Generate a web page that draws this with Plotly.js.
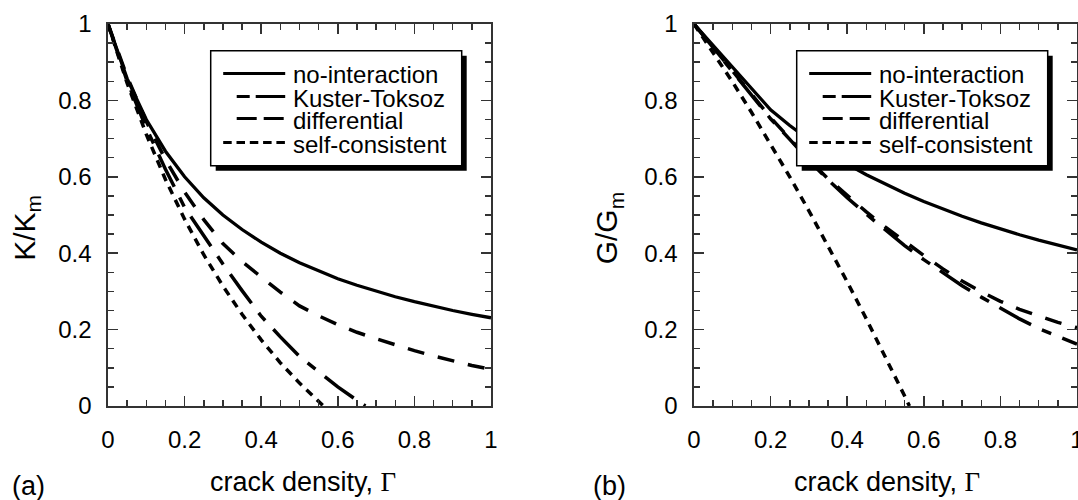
<!DOCTYPE html>
<html>
<head>
<meta charset="utf-8">
<script src="https://cdn.plot.ly/plotly-3.0.1.min.js"></script>
<style>html,body{margin:0;padding:0;background:#fff;}#chart{width:1078px;height:500px;}</style>
</head>
<body>
<div id="chart"></div>
<script>
// ---------- data ----------
const seriesNames = ['no-interaction', 'Kuster-Toksoz', 'differential', 'self-consistent'];
const tickVals = [0, 0.2, 0.4, 0.6, 0.8, 1];
const tickText = ['0', '0.2', '0.4', '0.6', '0.8', '1'];

// (a) bulk modulus K/Km
const gammaA = [0, 0.05, 0.1, 0.15, 0.2, 0.25, 0.3, 0.35, 0.4, 0.45, 0.5, 0.55, 0.6, 0.65, 0.7, 0.75, 0.8, 0.85, 0.9, 0.95, 1];
const kNoInteraction = [1, 0.857, 0.75, 0.667, 0.6, 0.545, 0.5, 0.462, 0.429, 0.4, 0.375, 0.353, 0.333, 0.316, 0.3, 0.286, 0.273, 0.261, 0.25, 0.24, 0.231];
const kDifferential = [1, 0.862, 0.745, 0.645, 0.56, 0.488, 0.425, 0.378, 0.338, 0.298, 0.262, 0.236, 0.213, 0.193, 0.176, 0.16, 0.145, 0.131, 0.118, 0.106, 0.096];
const gammaKT_A = [0, 0.05, 0.1, 0.15, 0.2, 0.25, 0.3, 0.35, 0.4, 0.45, 0.5, 0.55, 0.6, 0.65, 0.672];
const kKusterToksoz = [1, 0.85, 0.728, 0.62, 0.52, 0.445, 0.372, 0.302, 0.235, 0.181, 0.13, 0.09, 0.05, 0.015, 0];
const gammaSC = [0, 0.05, 0.1, 0.15, 0.2, 0.25, 0.3, 0.35, 0.4, 0.45, 0.5, 0.55, 0.5625];
const kSelfConsistent = [1, 0.845, 0.711, 0.593, 0.489, 0.396, 0.314, 0.24, 0.173, 0.113, 0.06, 0.011, 0];

// (b) shear modulus G/Gm
const gammaB = [0, 0.2, 0.25, 0.3, 0.35, 0.4, 0.45, 0.5, 0.55, 0.6, 0.65, 0.7, 0.75, 0.8, 0.85, 0.9, 0.95, 1];
const gNoInteraction = [1, 0.7755, 0.7343, 0.6972, 0.6637, 0.6333, 0.6055, 0.5801, 0.5567, 0.5351, 0.5152, 0.4967, 0.4795, 0.4634, 0.4483, 0.4342, 0.421, 0.4086];
const gKusterToksoz = [1, 0.752, 0.698, 0.643, 0.592, 0.545, 0.502, 0.46, 0.42, 0.383, 0.35, 0.315, 0.285, 0.256, 0.228, 0.203, 0.182, 0.162];
const gDifferential = [1, 0.755, 0.70, 0.645, 0.595, 0.55, 0.508, 0.468, 0.43, 0.394, 0.359, 0.327, 0.299, 0.274, 0.253, 0.235, 0.219, 0.205];
const gSelfConsistent = [1, 0.926, 0.849, 0.769, 0.686, 0.6, 0.511, 0.42, 0.325, 0.228, 0.129, 0.026, 0];

// ---------- styling ----------
const W = 1078, H = 500, MT = 24, MB = 94;
const px = X => X / W;
const py = Y => (H - MB - Y) / (H - MT - MB);
const FONT = 'Liberation Sans, Arial, sans-serif';
const AX = '#333';

const lineStyles = [
  {color: '#000', width: 3.3, dash: 'solid'},
  {color: '#000', width: 3.5, dash: '36px,12px,10px,12px'},
  {color: '#000', width: 3.5, dash: '17px,14px'},
  {color: '#000', width: 3.5, dash: '8px,6.5px'}
];
const legendDash = ['solid', '13px,6px,30px,0px', '20px,7px', '8.5px,4.8px'];

function tr(x, y, i, xa, ya) {
  return {x: x, y: y, type: 'scatter', mode: 'lines', name: seriesNames[i],
    line: lineStyles[i], xaxis: xa, yaxis: ya, showlegend: false, hoverinfo: 'skip'};
}

const data = [
  tr(gammaA, kNoInteraction, 0, 'x', 'y'),
  tr(gammaKT_A, kKusterToksoz, 1, 'x', 'y'),
  tr(gammaA, kDifferential, 2, 'x', 'y'),
  tr(gammaSC, kSelfConsistent, 3, 'x', 'y'),
  tr(gammaB, gNoInteraction, 0, 'x2', 'y2'),
  tr(gammaB, gKusterToksoz, 1, 'x2', 'y2'),
  tr(gammaB, gDifferential, 2, 'x2', 'y2'),
  tr(gammaSC, gSelfConsistent, 3, 'x2', 'y2')
];

function axis(extra) {
  return Object.assign({
    range: [0, 1], tickmode: 'array', tickvals: tickVals, ticktext: tickText,
    ticks: 'inside', ticklen: 10, tickwidth: 1.5, tickcolor: AX,
    showline: true, linecolor: AX, linewidth: 1.6, mirror: 'allticks',
    minor: {tickmode: 'linear', tick0: 0, dtick: 0.05, ticks: 'inside', ticklen: 6, tickwidth: 1.5, tickcolor: AX, showgrid: false},
    showgrid: false, zeroline: false, fixedrange: true,
    tickfont: {family: FONT, size: 24, color: '#000'},
    ticklabeloverflow: 'allow'
  }, extra);
}

const shapes = [];
const annotations = [];

function addLegend(BL) {
  const top = 50.7, bot = 165.7, wid = 251;
  shapes.push({type: 'rect', xref: 'paper', yref: 'paper', x0: px(BL + 5), x1: px(BL + wid + 5), y0: py(top + 5), y1: py(bot + 5),
    fillcolor: '#000', line: {width: 0}, layer: 'above'});
  shapes.push({type: 'rect', xref: 'paper', yref: 'paper', x0: px(BL), x1: px(BL + wid), y0: py(top), y1: py(bot),
    fillcolor: '#fff', line: {color: '#000', width: 1.5}, layer: 'above'});
  const rows = [73.5, 96.5, 118.5, 142.5];
  const starts = [12.5, 26, 26, 12.5];
  for (let i = 0; i < 4; i++) {
    shapes.push({type: 'line', xref: 'paper', yref: 'paper', x0: px(BL + starts[i]), x1: px(BL + 74.5), y0: py(rows[i]), y1: py(rows[i]),
      line: {color: '#000', width: 3, dash: legendDash[i]}, layer: 'above'});
    annotations.push({xref: 'paper', yref: 'paper', x: px(BL + 80), y: py(rows[i] + 1.5), xanchor: 'left', yanchor: 'middle',
      text: seriesNames[i], showarrow: false, font: {family: FONT, size: 24, color: '#000'}});
  }
}
addLegend(210.7);
addLegend(796.7);

function label(text, X, Y, size, angle) {
  annotations.push({xref: 'paper', yref: 'paper', x: px(X), y: py(Y), xanchor: 'center', yanchor: 'middle',
    text: text, showarrow: false, textangle: angle || 0, font: {family: FONT, size: size, color: '#000'}});
}
const gammaSym = '<span style="font-family:Liberation Serif, Times New Roman, serif">Γ</span>';
label('crack density, ' + gammaSym, 302.5, 482, 27);
label('crack density, ' + gammaSym, 886.7, 482, 27);
label('K/K<sub>m</sub>', 25.8, 228, 30, -90);
label('G/G<sub>m</sub>', 608.3, 228, 30, -90);
label('(a)', 28.3, 486, 27);
label('(b)', 609, 486, 27);

const layout = {
  width: W, height: H,
  margin: {l: 0, r: 0, t: MT, b: MB, pad: 0},
  paper_bgcolor: '#fff', plot_bgcolor: '#fff',
  showlegend: false,
  font: {family: FONT, color: '#000'},
  xaxis: axis({domain: [px(108), px(491)], anchor: 'y', ticklabelstandoff: 12}),
  yaxis: axis({domain: [0, 1], anchor: 'x', ticklabelstandoff: 10}),
  xaxis2: axis({domain: [px(694), px(1077)], anchor: 'y2', ticklabelstandoff: 12}),
  yaxis2: axis({domain: [0, 1], anchor: 'x2', ticklabelstandoff: 10}),
  shapes: shapes,
  annotations: annotations
};

Plotly.newPlot('chart', data, layout, {displayModeBar: false, staticPlot: true});
</script>
</body>
</html>
